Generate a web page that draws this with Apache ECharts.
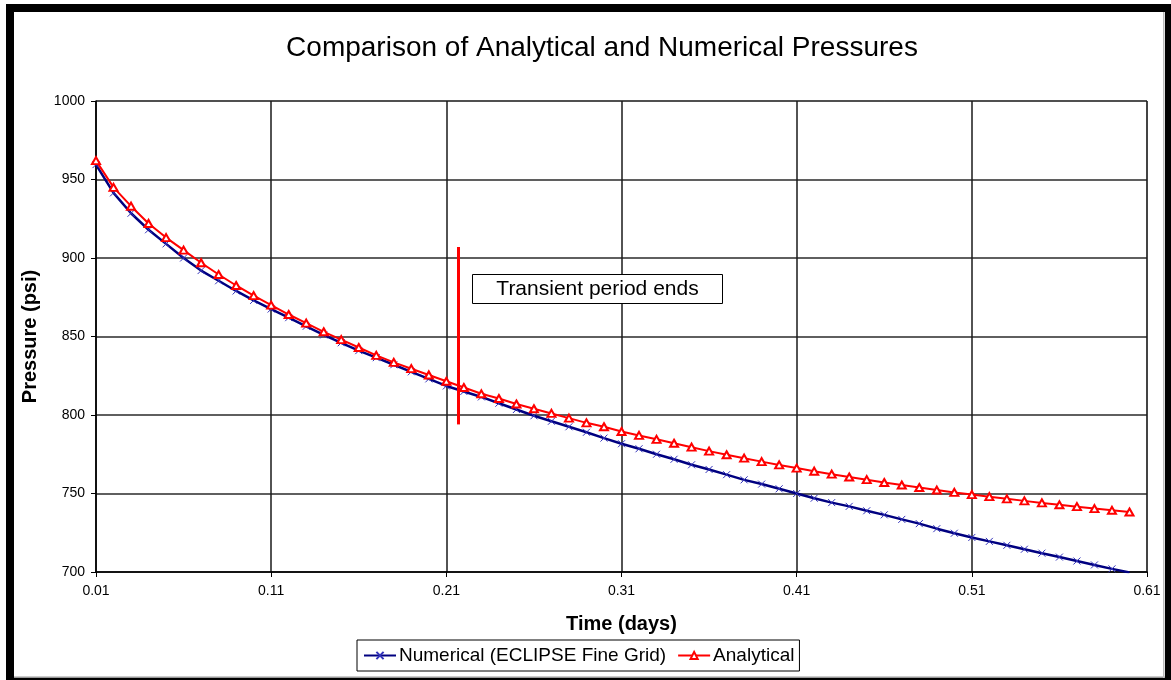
<!DOCTYPE html>
<html>
<head>
<meta charset="utf-8">
<script src="https://cdn.jsdelivr.net/npm/echarts@6/dist/echarts.min.js"></script>
<style>html,body{margin:0;padding:0;background:#fff;}#c{width:1171px;height:680px;}</style>
</head>
<body>
<div id="c"></div>
<script>
const times = [0.01,0.02,0.03,0.04,0.05,0.06,0.07,0.08,0.09,0.10,
  0.11,0.12,0.13,0.14,0.15,0.16,0.17,0.18,0.19,0.20,
  0.21,0.22,0.23,0.24,0.25,0.26,0.27,0.28,0.29,0.30,
  0.31,0.32,0.33,0.34,0.35,0.36,0.37,0.38,0.39,0.40,
  0.41,0.42,0.43,0.44,0.45,0.46,0.47,0.48,0.49,0.50,
  0.51,0.52,0.53,0.54,0.55,0.56,0.57,0.58,0.59,0.60];
const numerical = [959.5,941.5,928.5,918,909,900,892,885.5,879,873,
  867.5,862,856.5,851,846,841,836.5,832,827.5,823,
  818.5,815,811.5,807.5,803.5,799.5,796,792.5,789,785.3,
  781.7,778.5,775,771.8,768.3,765.3,762,758.7,756,753,
  750,747,744.2,741.8,739,736.4,733.5,730.8,727.6,724.7,
  722,719.5,717,714.5,712,709.5,707,704.5,702,699.7];
const analytical = [962,945,933,922,913,905,897,889.5,882.5,876,
  870,864,858.5,853,848,843,838,833.5,829.5,825.5,
  821.5,817.5,813.5,810.5,807,804,801,798,795,792.5,
  789.5,787,784.5,782,779.5,777,774.7,772.5,770.3,768.2,
  766.2,764.2,762.3,760.5,758.8,757,755.4,753.8,752.2,750.7,
  749.3,748,746.6,745.3,744,742.8,741.6,740.4,739.3,738.2];
const transientLine = [[0.217, 907], [0.217, 794]];
const xTicks = {min: 0.01, max: 0.61, interval: 0.1};
const yTicks = {min: 700, max: 1000, interval: 50};

const chart = echarts.init(document.getElementById('c'));
const FONT = '"Liberation Sans", Arial, sans-serif';
chart.setOption({
  backgroundColor: '#fff',
  animation: false,
  title: {
    text: 'Comparison of Analytical and Numerical Pressures',
    left: 597, top: 29, textAlign: 'center',
    textStyle: {fontFamily: FONT, fontSize: 28, fontWeight: 'normal', color: '#000'}
  },
  grid: {left: 96, right: 24, top: 101, bottom: 108, show: true, borderColor: '#888', borderWidth: 1},
  xAxis: {
    type: 'value', min: xTicks.min, max: xTicks.max, interval: xTicks.interval,
    name: 'Time (days)', nameLocation: 'middle', nameGap: 42,
    nameTextStyle: {fontFamily: FONT, fontSize: 20, fontWeight: 'bold', color: '#000'},
    axisLine: {lineStyle: {color: '#000', width: 1.5}},
    axisTick: {show: true, length: 5, lineStyle: {color: '#000'}},
    axisLabel: {fontFamily: FONT, fontSize: 14, color: '#000', margin: 12,
      formatter: v => v.toFixed(2)},
    splitLine: {show: true, lineStyle: {color: '#1a1a1a', width: 1.5}}
  },
  yAxis: {
    type: 'value', min: yTicks.min, max: yTicks.max, interval: yTicks.interval,
    name: 'Pressure (psi)', nameLocation: 'middle', nameGap: 56,
    nameTextStyle: {fontFamily: FONT, fontSize: 20, fontWeight: 'bold', color: '#000'},
    axisLine: {show: true, lineStyle: {color: '#000', width: 1.5}},
    axisTick: {show: true, length: 5, lineStyle: {color: '#000'}},
    axisLabel: {fontFamily: FONT, fontSize: 14, color: '#000', margin: 11,
      formatter: v => String(v)},
    splitLine: {show: true, lineStyle: {color: '#2a2a2a', width: 1.5}}
  },
  legend: {
    left: 357, top: 640,
    padding: [6, 5, 6, 6], itemGap: 11, itemWidth: 32, itemHeight: 9,
    borderColor: '#000', borderWidth: 1,
    textStyle: {fontFamily: FONT, fontSize: 19, color: '#000', padding: [0,0,0,-2]},
    data: ['Numerical (ECLIPSE Fine Grid)', 'Analytical']
  },
  series: [
    {
      name: 'Numerical (ECLIPSE Fine Grid)', type: 'line',
      data: times.map((t, i) => [t, numerical[i]]),
      symbol: 'path://M0 0L10 10M10 0L0 10', symbolSize: 7,
      lineStyle: {color: '#000080', width: 2.5},
      itemStyle: {color: '#000080', borderColor: '#3333bb', borderWidth: 1},
      z: 3
    },
    {
      name: 'Analytical', type: 'line',
      data: times.map((t, i) => [t, analytical[i]]),
      symbol: 'emptyTriangle', symbolSize: [8, 7],
      lineStyle: {color: '#ff0000', width: 2},
      itemStyle: {color: '#ff0000', borderWidth: 1},
      z: 4,
      markLine: {
        silent: true, symbol: 'none',
        lineStyle: {color: '#ff0000', width: 3, type: 'solid'},
        label: {show: false},
        data: [[{coord: transientLine[0]}, {coord: transientLine[1]}]]
      }
    }
  ],
  graphic: [
    {type: 'group', left: 472, top: 274, z: 100, children: [
      {type: 'rect', z: 100, shape: {x: 0, y: 0, width: 250, height: 29},
        style: {fill: '#fff', stroke: '#000', lineWidth: 1}},
      {type: 'text', z: 101, x: 125, y: 15, style: {text: 'Transient period ends', fontFamily: FONT,
        fontSize: 21, fill: '#000', align: 'center', verticalAlign: 'middle'}}
    ]},
    {type: 'rect', z: 100, shape: {x: 6, y: 4, width: 8, height: 676}, style: {fill: '#000'}},
    {type: 'rect', z: 100, shape: {x: 6, y: 4, width: 1165, height: 8}, style: {fill: '#000'}},
    {type: 'rect', z: 100, shape: {x: 1165, y: 4, width: 6, height: 676}, style: {fill: '#000'}},
    {type: 'rect', z: 100, shape: {x: 6, y: 678, width: 1165, height: 2}, style: {fill: '#000'}},
    {type: 'rect', z: 100, shape: {x: 14, y: 676.5, width: 1151, height: 1.5}, style: {fill: '#999'}},
    {type: 'rect', z: 100, shape: {x: 1163, y: 12, width: 1.5, height: 666}, style: {fill: '#bbb'}}
  ]
});
</script>
</body>
</html>
